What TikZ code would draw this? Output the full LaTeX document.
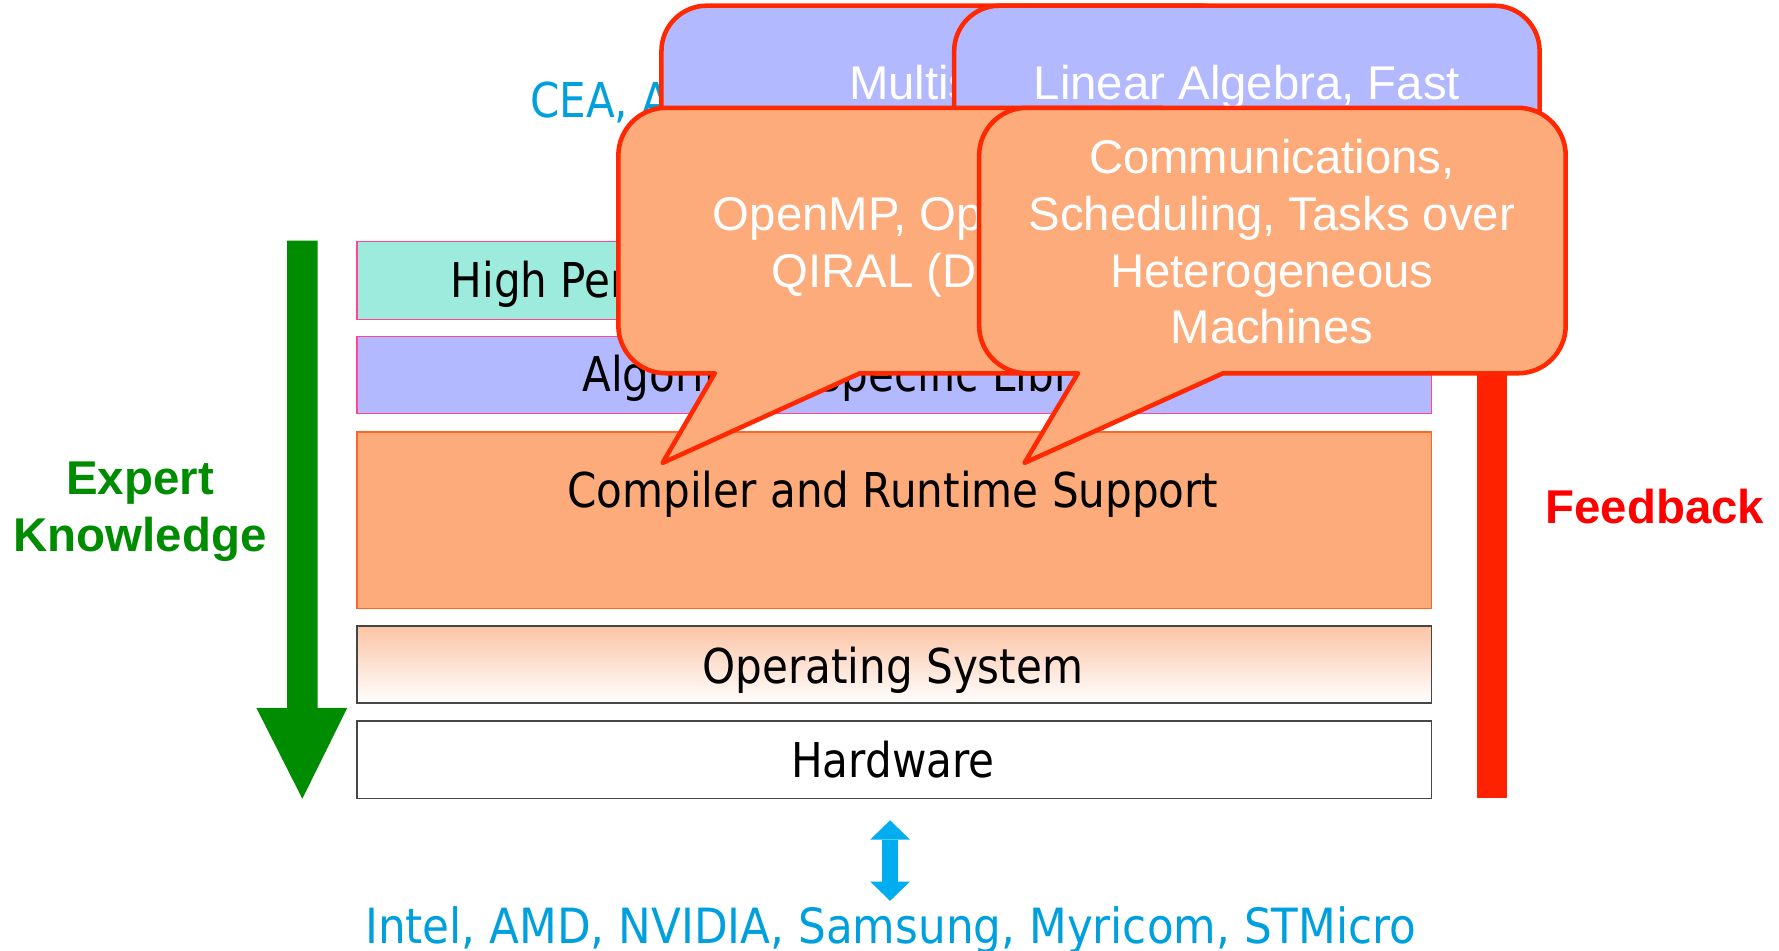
\documentclass[tikz,border=0pt]{standalone}
\usepackage{fontspec}
\usetikzlibrary{arrows.meta}
\newfontfamily\tah{DejaVu Sans}[FakeStretch=0.877]
\newfontfamily\tahw{DejaVu Sans}[FakeStretch=0.9]
\newfontfamily\ari{Liberation Sans}
\definecolor{aquaF}{RGB}{157,235,220}
\definecolor{lavF}{RGB}{179,185,255}
\definecolor{salmF}{RGB}{253,171,122}
\definecolor{pinkB}{RGB}{255,70,150}
\definecolor{orangeB}{RGB}{255,100,40}
\definecolor{grayB}{RGB}{70,70,70}
\definecolor{callRed}{RGB}{255,40,0}
\definecolor{ekGreen}{RGB}{0,140,0}
\definecolor{barRed}{RGB}{255,34,0}
\definecolor{fbRed}{RGB}{255,0,0}
\definecolor{cyanT}{RGB}{0,160,222}
\definecolor{cyanA}{RGB}{0,174,239}
\definecolor{osPeach}{RGB}{252,196,165}
\newcommand\mycallout[9]{%
  \path[#9] (#6,#4) -- (#3-42,#4) arc[start angle=90,end angle=0,radius=42]
    -- (#3,#2+42) arc[start angle=0,end angle=-90,radius=42]
    -- (#1+42,#2) arc[start angle=-90,end angle=-180,radius=42]
    -- (#1,#4-42) arc[start angle=180,end angle=90,radius=42]
    -- (#5,#4) -- (#7,#8) -- cycle;}
\tikzset{
  layerbox/.style={inner sep=0pt, anchor=north west, minimum width=947pt, line width=1.2pt},
  laytext/.style={font=\tah\fontsize{42.3pt}{50pt}\selectfont, text=black, inner sep=0pt},
  cyantext/.style={font=\tah\fontsize{42.3pt}{50pt}\selectfont, text=cyanT, inner sep=0pt},
  calltext/.style={font=\ari\fontsize{41.7pt}{50pt}\selectfont, text=white, inner sep=0pt, anchor=base},
  boldtext/.style={font=\ari\bfseries\fontsize{41.8pt}{50pt}\selectfont, inner sep=0pt},
  orangecall/.style={fill=salmF, draw=callRed, line width=4pt, line join=round},
  lavcall/.style={fill=lavF, draw=callRed, line width=4pt, rounded corners=40pt},
}
\begin{document}
\begin{tikzpicture}[x=1pt,y=-1pt]
\useasboundingbox (0,0) rectangle (1568,838);
% layers
\node[layerbox, fill=aquaF, draw=pinkB, minimum height=69pt] (hpc) at (314,212) {};
\node[layerbox, fill=lavF, draw=pinkB, minimum height=68pt] (alg) at (314,296) {};
\node[layerbox, fill=salmF, draw=orangeB, minimum height=156pt] (crs) at (314,380) {};
\node[layerbox, top color=osPeach, middle color=white, bottom color=white, draw=grayB, minimum height=68pt] (os) at (314,551) {};
\node[layerbox, fill=white, draw=grayB, minimum height=68pt] (hw) at (314,635) {};
\node[laytext, anchor=base west] (hpct) at (397,262) {High Performance Computing Applications};
\node[laytext, anchor=base west] (algt) at (513,345) {Algorithm, Specific Libraries};
\node[laytext, anchor=base] (crst) at (787,447) {Compiler and Runtime Support};
\node[laytext, anchor=base] (ost) at (787,602) {Operating System};
\node[laytext, anchor=base] (hwt) at (787,685) {Hardware};
% feedback bar
\fill[barRed] (1302,250) rectangle (1328,703);
% expert knowledge arrow
\fill[ekGreen] (253,212) -- (280,212) -- (280,624) -- (306,624) -- (266.5,704) -- (226,624) -- (253,624) -- cycle;
\node[boldtext, text=ekGreen, anchor=base] (ek1) at (123.5,436) {Expert};
\node[boldtext, text=ekGreen, anchor=base] (ek2) at (123.5,486) {Knowledge};
\node[boldtext, text=fbRed, anchor=base west] (fb) at (1362,461) {Feedback};
% sponsors
\node[cyantext, anchor=base west] (cea) at (467,104) {CEA, ANR};
% lavender callouts
\path[lavcall] (583,5) rectangle (1099,300);
\node[calltext] (l1t) at (841,88) {Multiscale};
\path[lavcall] (841,5) rectangle (1357,300);
\node[calltext] (l2t) at (1099,88) {Linear Algebra, Fast};
% orange callouts
\mycallout{545}{95}{1062}{329}{630}{758}{584}{408}{orangecall}
\node[calltext] (a1) at (803,203) {OpenMP, OpenCL,};
\node[calltext] (a2) at (803,253) {QIRAL (DSL)};
\mycallout{863}{95}{1380}{329}{950}{1078}{903}{408}{orangecall}
\node[calltext] (b1) at (1121,153) {Communications,};
\node[calltext] (b2) at (1121,203) {Scheduling, Tasks over};
\node[calltext] (b3) at (1121,253) {Heterogeneous};
\node[calltext] (b4) at (1121,303) {Machines};
% vendors
\node[font=\tahw\fontsize{42.8pt}{50pt}\selectfont, text=cyanT, inner sep=0pt, anchor=base] (vend) at (785,832) {Intel, AMD, NVIDIA, Samsung, Myricom, STMicro};
\coordinate (ctop) at (784.5,723);
\coordinate (cbot) at (784.5,794);
\draw[cyanA, line width=14pt, {Triangle[width=35pt,length=17pt,line width=0pt]}-{Triangle[width=35pt,length=17pt,line width=0pt]}] (ctop) -- (cbot);
\end{tikzpicture}
\end{document}
